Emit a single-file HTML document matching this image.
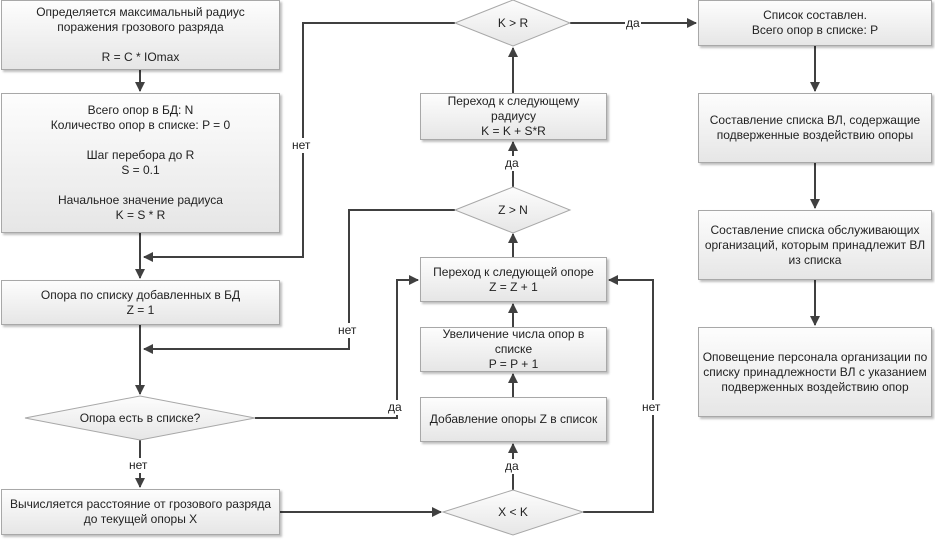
<!DOCTYPE html>
<html><head><meta charset="utf-8"><style>
body{margin:0;background:#fff;width:935px;height:549px;overflow:hidden;position:relative;font-family:"Liberation Sans",sans-serif;font-size:12px;color:#222}
.b{position:absolute;box-sizing:border-box;border:1px solid #a8a8a8;background:linear-gradient(#fdfdfd,#e6e6e6);box-shadow:2px 2px 2px rgba(0,0,0,.25);display:flex;align-items:center;justify-content:center;text-align:center;line-height:15px}
.t{position:absolute;text-align:center;line-height:15px;background:#fff;padding:0 1px}
svg{position:absolute;left:0;top:0}
</style></head><body>
<svg width="935" height="549">
<defs><linearGradient id="g" x1="0" y1="0" x2="0" y2="1"><stop offset="0" stop-color="#fdfdfd"/><stop offset="1" stop-color="#e6e6e6"/></linearGradient>
<marker id="a" markerWidth="10" markerHeight="10" refX="9" refY="5" orient="auto" markerUnits="userSpaceOnUse"><path d="M0,0 L10,5 L0,10 z" fill="#404040"/></marker></defs>
<g stroke="#404040" stroke-width="2" fill="none">
<line x1="140" y1="70" x2="140" y2="91" marker-end="url(#a)"/>
<line x1="140" y1="233" x2="140" y2="278" marker-end="url(#a)"/>
<polyline points="455,23 303,23 303,257 144,257" marker-end="url(#a)"/>
<line x1="140" y1="325" x2="140" y2="394" marker-end="url(#a)"/>
<polyline points="455,210 349,210 349,349 144,349" marker-end="url(#a)"/>
<line x1="140" y1="440" x2="140" y2="487" marker-end="url(#a)"/>
<polyline points="255,418 397,418 397,280 418,280" marker-end="url(#a)"/>
<line x1="280" y1="512" x2="441" y2="512" marker-end="url(#a)"/>
<line x1="513" y1="490" x2="513" y2="444" marker-end="url(#a)"/>
<line x1="513" y1="397" x2="513" y2="374" marker-end="url(#a)"/>
<line x1="513" y1="327" x2="513" y2="304" marker-end="url(#a)"/>
<polyline points="583,512 653,512 653,280 609,280" marker-end="url(#a)"/>
<line x1="513" y1="257" x2="513" y2="234" marker-end="url(#a)"/>
<line x1="513" y1="187" x2="513" y2="142" marker-end="url(#a)"/>
<line x1="513" y1="93" x2="513" y2="48" marker-end="url(#a)"/>
<line x1="570" y1="23" x2="696" y2="23" marker-end="url(#a)"/>
<line x1="815" y1="46" x2="815" y2="91" marker-end="url(#a)"/>
<line x1="815" y1="163" x2="815" y2="208" marker-end="url(#a)"/>
<line x1="815" y1="280" x2="815" y2="325" marker-end="url(#a)"/>
</g>
<g fill="url(#g)" stroke="#a8a8a8" stroke-width="1">
<polygon points="455,23 513,0 570,23 513,46"/>
<polygon points="455,210 513,187 570,210 513,233"/>
<polygon points="25,418 140,396 255,418 140,440"/>
<polygon points="443,512 513,490 583,512 513,535"/>
</g>
<g font-family="Liberation Sans,sans-serif" font-size="12" fill="#222" text-anchor="middle">
<text x="513" y="27">K &gt; R</text>
<text x="513" y="214">Z &gt; N</text>
<text x="140" y="422">Опора есть в списке?</text>
<text x="513" y="516">X &lt; K</text>
</g>
</svg>
<div class="b" style="left:1px;top:0;width:279px;height:70px">Определяется максимальный радиус<br>поражения грозового разряда<br><br>R = C * IOmax</div>
<div class="b" style="left:1px;top:93px;width:279px;height:140px">Всего опор в БД: N<br>Количество опор в списке: P = 0<br><br>Шаг перебора до R<br>S = 0.1<br><br>Начальное значение радиуса<br>K = S * R</div>
<div class="b" style="left:1px;top:280px;width:279px;height:45px">Опора по списку добавленных в БД<br>Z = 1</div>
<div class="b" style="left:1px;top:489px;width:279px;height:46px">Вычисляется расстояние от грозового разряда<br>до текущей опоры X</div>
<div class="b" style="left:420px;top:93px;width:187px;height:47px">Переход к следующему<br>радиусу<br>K = K + S*R</div>
<div class="b" style="left:420px;top:257px;width:187px;height:45px">Переход к следующей опоре<br>Z = Z + 1</div>
<div class="b" style="left:420px;top:327px;width:187px;height:45px">Увеличение числа опор в<br>списке<br>P = P + 1</div>
<div class="b" style="left:420px;top:397px;width:187px;height:45px">Добавление опоры Z в список</div>
<div class="b" style="left:698px;top:0;width:234px;height:46px">Список составлен.<br>Всего опор в списке: P</div>
<div class="b" style="left:698px;top:93px;width:234px;height:70px">Составление списка ВЛ, содержащие<br>подверженные воздействию опоры</div>
<div class="b" style="left:698px;top:210px;width:234px;height:70px">Составление списка обслуживающих<br>организаций, которым принадлежит ВЛ<br>из списка</div>
<div class="b" style="left:698px;top:327px;width:234px;height:90px">Оповещение персонала организации по<br>списку принадлежности ВЛ с указанием<br>подверженных воздействию опор</div>
<div class="t" style="left:291px;top:138px">нет</div>
<div class="t" style="left:337px;top:323px">нет</div>
<div class="t" style="left:387px;top:400px">да</div>
<div class="t" style="left:128px;top:458px">нет</div>
<div class="t" style="left:504px;top:156px">да</div>
<div class="t" style="left:504px;top:459px">да</div>
<div class="t" style="left:641px;top:400px">нет</div>
<div class="t" style="left:625px;top:16px">да</div>
</body></html>
